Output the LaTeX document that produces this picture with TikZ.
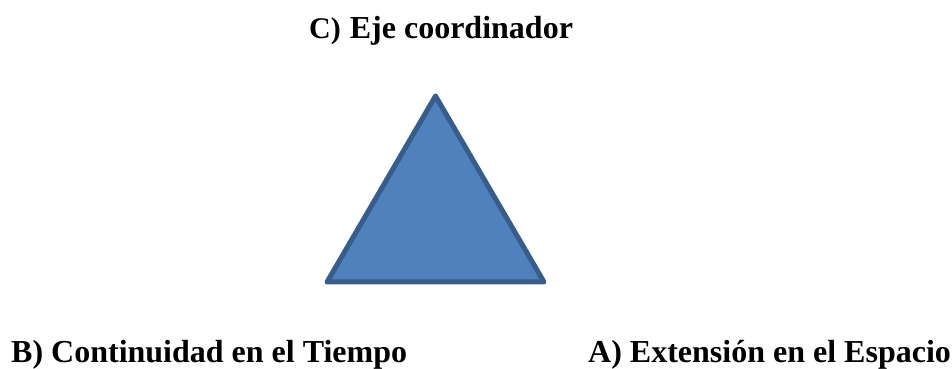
\documentclass[tikz,border=0pt]{standalone}
\usepackage{fontspec}
\setmainfont{Liberation Serif}
\definecolor{trifill}{HTML}{4F81BD}
\definecolor{tridraw}{HTML}{385D8A}
\begin{document}
\begin{tikzpicture}[x=1pt,y=1pt,
  lbl/.style={inner sep=0pt,anchor=base west,font=\fontsize{32}{38}\selectfont\bfseries},
  tri/.style={fill=trifill,draw=tridraw,line width=5pt,line join=round}]
\useasboundingbox (0,0) rectangle (952,369);
\coordinate (apex) at (435.5,273);
\coordinate (bl) at (327,87);
\coordinate (br) at (544,87);
\draw[tri] (apex) -- (bl) -- (br) -- cycle;
\node[lbl] (c) at (309,330) {{\fontsize{30}{36}\selectfont C)}\hspace{9pt}Eje coordinador};
\node[lbl] (b) at (11,6) {B) Continuidad en el Tiempo};
\node[lbl] (a) at (588,6) {A) Extensión en el Espacio};
\end{tikzpicture}
\end{document}
